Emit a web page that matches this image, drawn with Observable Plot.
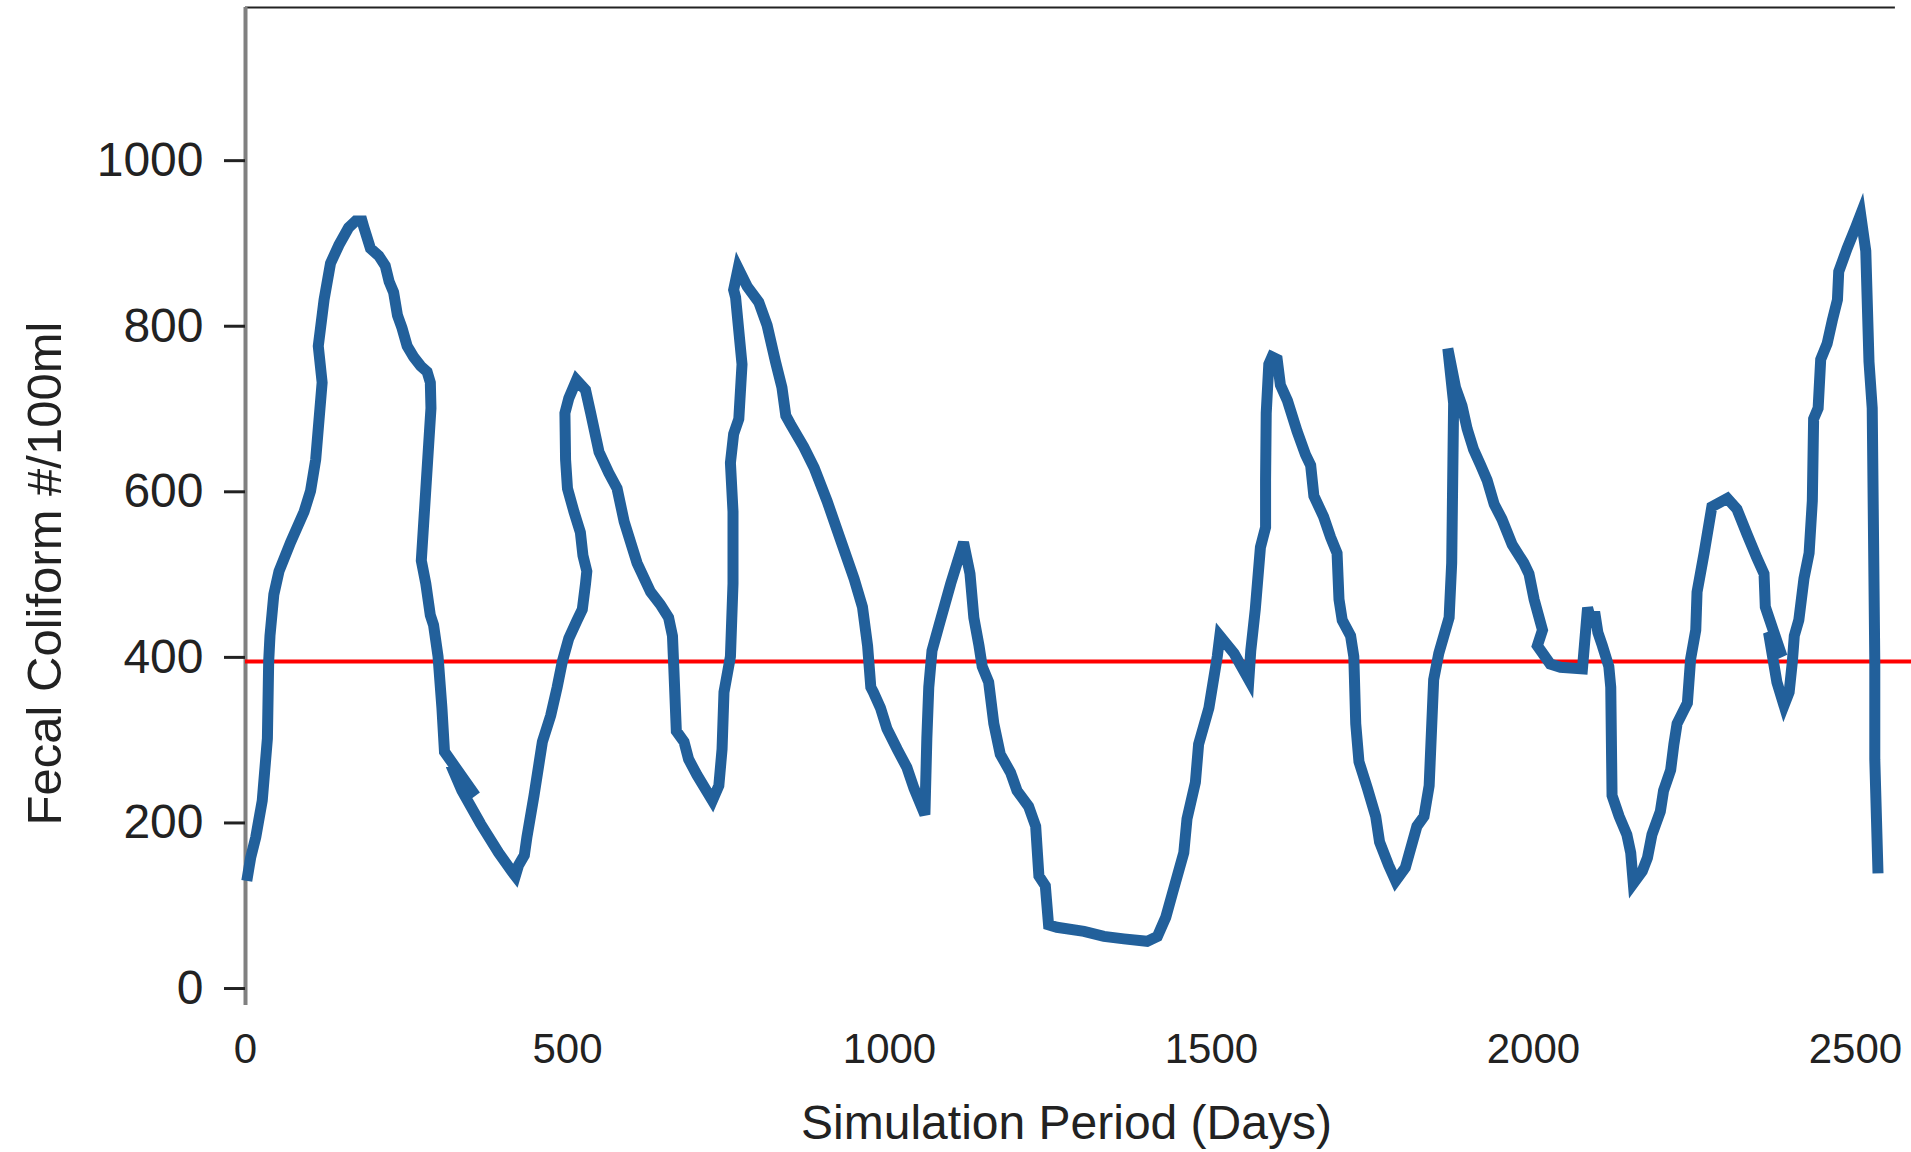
<!DOCTYPE html>
<html><head><meta charset="utf-8">
<script src="https://cdn.jsdelivr.net/npm/d3@7"></script>
<script src="https://cdn.jsdelivr.net/npm/@observablehq/plot@0.6"></script>
<style>html,body{margin:0;padding:0;background:#fff;}</style>
</head><body><div id="chart"></div>
<script>
const days = [
 2, 8, 16, 26, 34, 36, 38, 44, 52, 70, 91, 101, 109, 119, 113, 122, 132, 145, 160, 171, 181, 184, 194, 207, 217, 223, 230, 236, 243, 251, 261, 272, 282, 287, 288, 273, 280, 287, 292, 299, 305, 309, 357, 319, 336, 365, 393, 414, 419,
 424, 433, 437, 448, 461, 474, 484, 492, 502, 515, 523, 528, 530, 524, 520, 510, 500, 497, 496, 502, 514, 528, 536, 549, 564, 577, 588, 608, 629, 644, 657, 663, 665, 669, 681, 688, 701, 725, 735, 740, 743, 753, 757, 757, 753, 758, 766, 771, 761, 758, 765, 779, 797, 810, 823, 833, 839,
 846, 867, 883, 903, 924, 945, 958, 966, 971, 975, 986, 996, 1012, 1027, 1038, 1055, 1058, 1061, 1066, 1077, 1095, 1115, 1125, 1131, 1139, 1144, 1154, 1162, 1172, 1188, 1198, 1216, 1227, 1232, 1242, 1247, 1260,
 1302, 1333, 1364, 1400, 1416, 1429, 1439, 1457, 1462, 1475, 1480, 1496, 1509, 1513, 1535, 1558, 1561, 1568, 1576, 1584, 1584, 1585, 1589, 1594, 1602, 1607, 1618, 1633, 1646, 1654, 1659, 1674, 1685,
 1695, 1698, 1703, 1716, 1721, 1724, 1729, 1742, 1755, 1761, 1775, 1786, 1801, 1819, 1830, 1838, 1845, 1853, 1869, 1873, 1876, 1867, 1879, 1889, 1897, 1907, 1918, 1928, 1939, 1951, 1967, 1985, 1993, 2001, 2014, 2006, 2026, 2042, 2076, 2084, 2091, 2095, 2100,
 2107, 2117, 2120, 2122, 2133, 2145, 2151, 2155, 2169, 2177, 2184, 2197, 2202, 2213, 2218, 2223, 2239, 2244, 2252, 2254, 2265, 2277, 2301, 2316, 2332, 2347, 2358, 2360, 2386, 2365, 2378, 2389, 2397, 2402, 2405, 2412, 2420, 2428, 2433, 2435, 2442, 2446, 2456, 2464, 2472, 2474, 2487, 2500, 2508, 2516, 2521, 2526, 2530, 2530, 2535
];
const fecal = [
 130, 158, 183, 227, 302, 395, 426, 476, 504, 539, 576, 601, 639, 732, 776, 832, 876, 898, 919, 927, 927, 919, 894, 885, 873, 854, 841, 813, 798, 776, 763, 752, 745, 732, 701, 517, 489, 451, 439, 401, 339, 286, 233, 270, 239, 199, 164, 141, 136,
 149, 161, 183, 233, 298, 330, 364, 395, 423, 445, 458, 489, 504, 523, 551, 576, 604, 639, 695, 713, 735, 723, 695, 648, 623, 604, 564, 514, 479, 464, 448, 426, 389, 311, 298, 277, 258, 227, 245, 289, 358, 401, 489, 576, 635, 670, 688, 754, 835, 844, 870, 848, 829, 801, 757, 726, 692,
 682, 654, 629, 589, 542, 495, 461, 414, 364, 358, 339, 314, 289, 267, 242, 210, 302, 364, 408, 439, 489, 539, 501, 448, 414, 389, 370, 320, 283, 261, 239, 220, 196, 136, 124, 77, 74,
 69, 63, 60, 57, 63, 86, 114, 164, 205, 249, 295, 339, 401, 426, 405, 373, 408, 458, 533, 557, 614, 695, 754, 763, 760, 729, 710, 673, 645, 632, 595, 570, 545,
 526, 470, 445, 426, 401, 320, 274, 242, 208, 177, 149, 130, 146, 196, 208, 245, 373, 405, 448, 514, 707, 773, 726, 704, 676, 651, 632, 614, 585, 567, 536, 514, 501, 470, 433, 414, 392, 388, 386, 460, 440, 455, 430,
 414, 389, 364, 233, 208, 186, 164, 127, 142, 158, 186, 214, 239, 264, 295, 320, 345, 398, 433, 479, 526, 582, 592, 579, 548, 520, 501, 461, 401, 430, 370, 342, 358, 395, 426, 445, 495, 526, 589, 688, 701, 760, 779, 807, 832, 866, 894, 919, 935, 891, 757, 701, 395, 277, 139
];
const threshold = [395];
const xTicks = [0, 500, 1000, 1500, 2000, 2500];
const yTicks = [0, 200, 400, 600, 800, 1000];
const xLabel = "Simulation Period (Days)";
const yLabel = "Fecal Coliform #/100ml";
const xDomain = [0, 2587];
const yDomain = [-20.5, 1185];
const frameRightDay = 2562;

const data = days.map((d, i) => ({day: d, value: fecal[i]}));

const chart = Plot.plot({
  width: 1911, height: 1152,
  marginLeft: 245, marginRight: 0, marginTop: 7, marginBottom: 147,
  style: {fontFamily: "'Liberation Sans', Arial, sans-serif", color: "#222", background: "#fff"},
  x: {domain: xDomain},
  y: {domain: yDomain},
  marks: [
    Plot.ruleY([yDomain[1]], {x1: 0, x2: frameRightDay, stroke: "#222", strokeWidth: 2}),
    Plot.ruleX([0], {stroke: "#808080", strokeWidth: 4}),
    Plot.axisY(yTicks, {tickSize: 21, tickPadding: 21, tickFormat: "d", fontSize: 48, strokeWidth: 3, label: null}),
    Plot.axisX(xTicks, {tickSize: 0, tickPadding: 28, tickFormat: "d", fontSize: 42, label: null}),
    Plot.ruleY(threshold, {stroke: "#ff0000", strokeWidth: 4}),
    Plot.line(data, {x: "day", y: "value", stroke: "#22609b", strokeWidth: 11, strokeLinejoin: "miter", strokeLinecap: "butt", strokeMiterlimit: 4}),
    Plot.text([xLabel], {frameAnchor: "bottom", textAnchor: "middle", lineAnchor: "middle", dx: -12, dy: 118, fontSize: 48, text: d => d}),
    Plot.text([yLabel], {frameAnchor: "left", textAnchor: "middle", rotate: -90, lineAnchor: "middle", dx: -200, dy: 67, fontSize: 49, text: d => d})
  ]
});
document.getElementById("chart").appendChild(chart);
</script>
</body></html>
